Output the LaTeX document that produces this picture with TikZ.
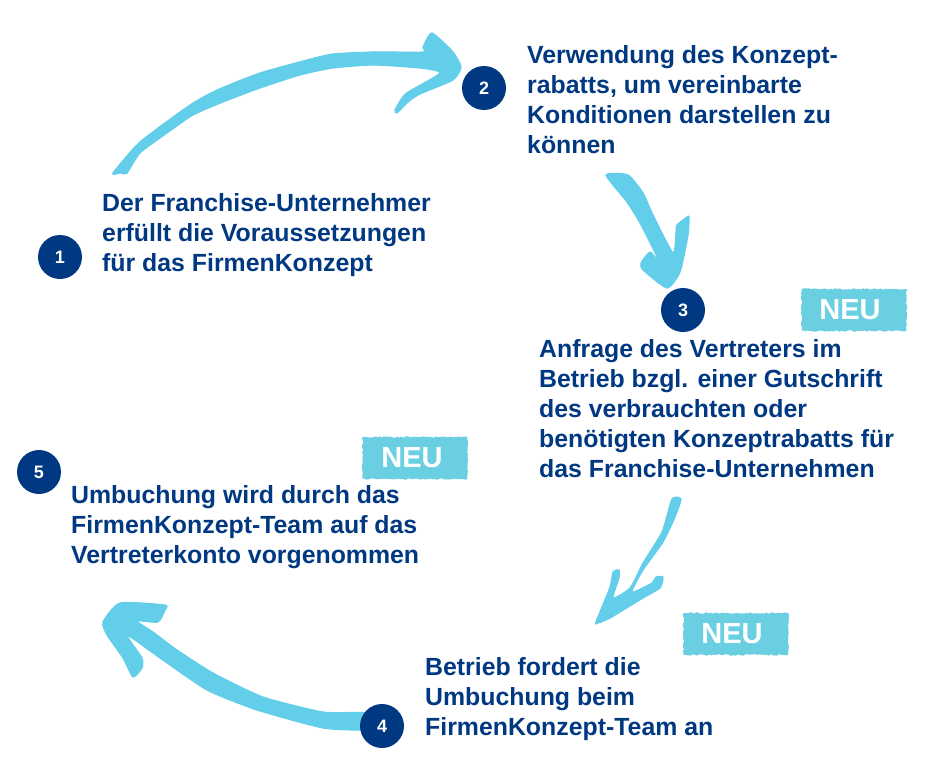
\documentclass[tikz,border=0pt]{standalone}
\usepackage{fontspec}
\setmainfont{Liberation Sans}
\usetikzlibrary{backgrounds,decorations.pathmorphing}
\definecolor{dunkelblau}{HTML}{003882}
\definecolor{pinsel}{HTML}{62CEEA}
\definecolor{etikett}{HTML}{6BCFE2}
\tikzset{
	nummer/.style={circle,fill=dunkelblau,text=white,minimum size=44pt,inner sep=0pt,font=\fontsize{18}{18}\selectfont\bfseries},
	rumpf/.style={anchor=west,align=left,inner sep=0pt,text=dunkelblau,font=\fontsize{24.85}{30}\selectfont\bfseries},
	neubox/.style={fill=etikett,text=white,minimum width=105pt,minimum height=42pt,inner sep=0pt,font=\fontsize{29}{29}\selectfont\bfseries,decorate,decoration={random steps,segment length=2pt,amplitude=.8pt}},
	pinselpfeil/.style={fill=pinsel,draw=pinsel,line width=1.2pt,line join=round}
}
\begin{document}
\begin{tikzpicture}[x=1pt,y=-1pt]
	\useasboundingbox (0,0) rectangle (941,768);
	\node[nummer] (n1) at (60,257) {1};
	\node[nummer] (n2) at (484,88) {2};
	\node[nummer] (n3) at (683,310) {3};
	\node[nummer] (n4) at (382,726) {4};
	\node[nummer] (n5) at (39,472) {5};
	\node[rumpf] (t1) at (102,235) {Der Franchise-Unternehmer\\erfüllt die Voraussetzungen\\für das FirmenKonzept};
	\node[rumpf] (t2) at (527,100) {Verwendung des Konzept-\\rabatts, um vereinbarte\\Konditionen darstellen zu\\können};
	\node[rumpf] (t3) at (539,409) {Anfrage des Vertreters im\\Betrieb bzgl. einer Gutschrift\\des verbrauchten oder\\benötigten Konzeptrabatts für\\das Franchise-Unternehmen};
	\node[rumpf] (t4) at (425,699) {Betrieb fordert die\\Umbuchung beim\\FirmenKonzept-Team an};
	\node[rumpf] (t5) at (71,527) {Umbuchung wird durch das\\FirmenKonzept-Team auf das\\Vertreterkonto vorgenommen};
	\node[neubox] (neu3) at (854,310) {\hspace*{-8pt}NEU};
	\node[neubox] (neu4) at (736,634) {\hspace*{-8pt}NEU};
	\node[neubox] (neu5) at (415,458) {\hspace*{-6pt}NEU};
	\coordinate (start12) at (113,173);
	\coordinate (spitze12) at (461,67);
	\coordinate (start23) at (606,175);
	\coordinate (spitze23) at (667,288);
	\coordinate (start34) at (672,499);
	\coordinate (spitze34) at (598,623);
	\coordinate (spitze45) at (103,622);
	\begin{scope}[on background layer]
	% brush arrows, outlines in picture pixels
	\fill[pinselpfeil] plot[smooth cycle,tension=.35] coordinates {(start12) (140,142) (190,105) (217,90) (260,73) (307,60) (333,54) (373,52) (423,52) (423,47) (432,33) (453,52) (spitze12) (453,80) (420,94) (408,102) (397,113) (395,110) (402,98) (408,92) (440,73) (420,68) (373,65) (333,68) (300,75) (260,88) (223,102) (193,115) (167,133) (140,153) (127,173) (120,173)};
	\fill[pinselpfeil] plot[smooth cycle,tension=.35] coordinates {(start23) (628,175) (643,193) (653,215) (673,253) (676,233) (677,225) (687,217) (689,217) (688,235) (680,272) (spitze23) (643,270) (641,263) (650,252) (659,261) (640,223) (627,202)};
	\fill[pinselpfeil] plot[smooth cycle,tension=.35] coordinates {(start34) (681,499) (675,517) (663,542) (643,570) (632,592) (652,583) (656,577) (663,577) (660,588) (643,598) (610,618) (spitze34) (596,622) (610,587) (613,572) (619,570) (619,578) (613,598) (630,588) (643,563) (662,532)};
	\fill[pinselpfeil] plot[smooth cycle,tension=.35] coordinates {(n4.center) (367,713) (323,712) (263,697) (213,673) (177,650) (153,632) (137,621) (158,622) (165,610) (165,605) (120,603) (spitze45) (107,635) (123,658) (133,677) (142,668) (142,658) (127,635) (160,658) (207,690) (257,710) (323,728) (367,730)};
	\end{scope}
\end{tikzpicture}
\end{document}
